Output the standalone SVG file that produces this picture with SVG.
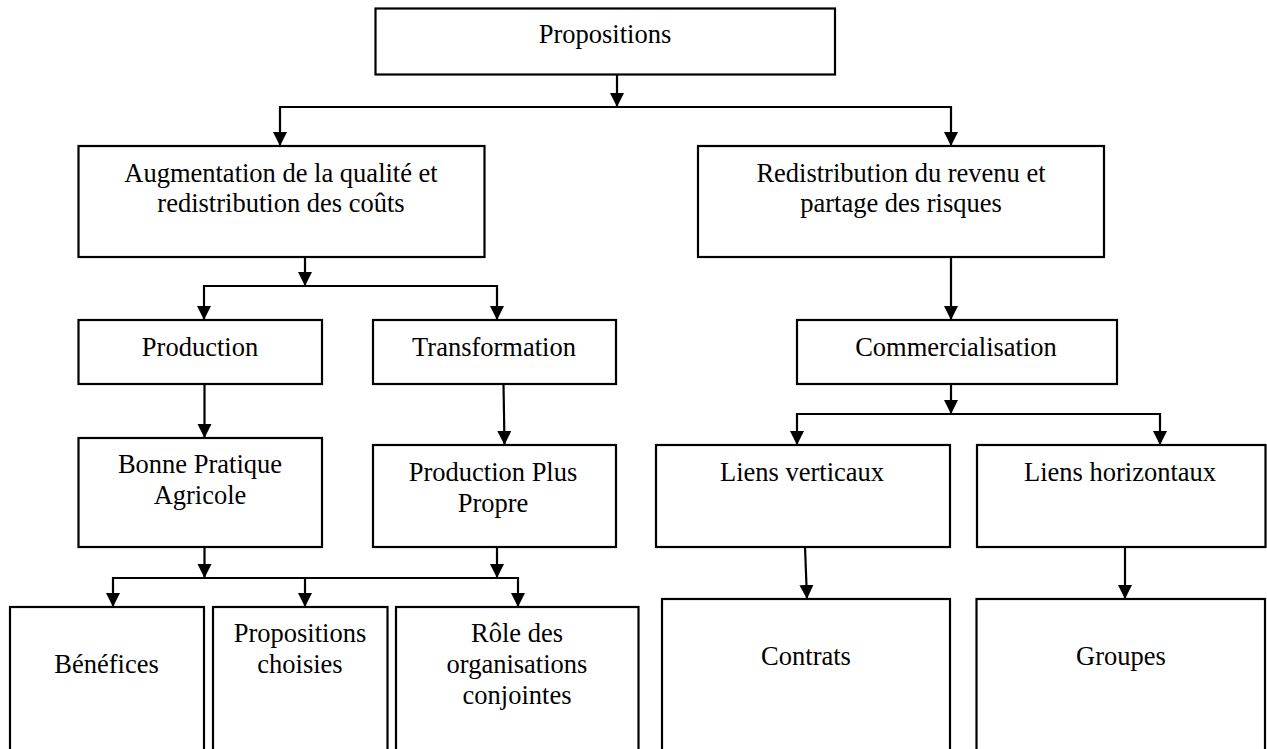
<svg xmlns="http://www.w3.org/2000/svg" width="1267" height="749" viewBox="0 0 1267 749">
  <style>
    .box { fill: #ffffff; stroke: #000000; stroke-width: 2.2; }
    .lbl { font-family: "Liberation Serif", "Times New Roman", serif; font-size: 26.5px; fill: #000000; text-anchor: middle; }
    .wire { fill: none; stroke: #000000; stroke-width: 2.2; }
    .arrow { fill: none; stroke: #000000; stroke-width: 2.2; marker-end: url(#head); }
  </style>
  <defs>
    <marker id="head" markerUnits="userSpaceOnUse" markerWidth="14" markerHeight="15" refX="14" refY="7" orient="auto" viewBox="0 0 14 14">
      <path d="M0,0 L14,7 L0,14 z" fill="#000000"/>
    </marker>
  </defs>
  <rect width="1267" height="749" fill="#ffffff"/>

  <!-- connectors -->
  <g id="connectors">
    <!-- root split -->
    <line class="arrow" x1="617" y1="74" x2="617" y2="107"/>
    <line class="wire" x1="280" y1="107" x2="951" y2="107"/>
    <line class="arrow" x1="280" y1="106" x2="280" y2="146"/>
    <line class="arrow" x1="951" y1="106" x2="951" y2="146"/>
    <!-- quality branch split -->
    <line class="arrow" x1="305" y1="257" x2="305" y2="286"/>
    <line class="wire" x1="204" y1="286" x2="497" y2="286"/>
    <line class="arrow" x1="204" y1="285" x2="204" y2="320"/>
    <line class="arrow" x1="497" y1="285" x2="497" y2="320"/>
    <!-- second level -->
    <line class="arrow" x1="204.5" y1="384" x2="204.5" y2="438"/>
    <line class="arrow" x1="503.5" y1="384" x2="504.5" y2="445"/>
    <!-- merge to the bottom row -->
    <line class="arrow" x1="204.5" y1="547" x2="204.5" y2="578"/>
    <line class="arrow" x1="497" y1="547" x2="497" y2="578"/>
    <line class="wire" x1="113" y1="578" x2="518" y2="578"/>
    <line class="arrow" x1="113" y1="577" x2="113" y2="607"/>
    <line class="arrow" x1="305" y1="577" x2="305" y2="607"/>
    <line class="arrow" x1="518" y1="577" x2="518" y2="607"/>
    <!-- income branch -->
    <line class="arrow" x1="951" y1="257" x2="951" y2="320"/>
    <line class="arrow" x1="951" y1="384" x2="951" y2="414"/>
    <line class="wire" x1="797" y1="414" x2="1160" y2="414"/>
    <line class="arrow" x1="797" y1="413" x2="797" y2="445"/>
    <line class="arrow" x1="1160" y1="413" x2="1160" y2="445"/>
    <line class="arrow" x1="805" y1="547" x2="807" y2="599"/>
    <line class="arrow" x1="1125" y1="547" x2="1125" y2="599"/>
  </g>

  <g id="propositions">
    <rect class="box" x="375.5" y="8.5" width="459.5" height="66"/>
    <text class="lbl" x="605" y="43">Propositions</text>
  </g>

  <g id="augmentation">
    <rect class="box" x="78.5" y="146" width="406" height="111"/>
    <text class="lbl" x="281" y="182">Augmentation de la qualité et</text>
    <text class="lbl" x="281" y="212">redistribution des coûts</text>
  </g>

  <g id="redistribution">
    <rect class="box" x="698" y="146" width="406" height="111"/>
    <text class="lbl" x="901" y="182">Redistribution du revenu et</text>
    <text class="lbl" x="901" y="212">partage des risques</text>
  </g>

  <g id="production">
    <rect class="box" x="78.5" y="320" width="243.5" height="64"/>
    <text class="lbl" x="200" y="356">Production</text>
  </g>

  <g id="transformation">
    <rect class="box" x="373" y="320" width="243" height="64"/>
    <text class="lbl" x="494" y="356">Transformation</text>
  </g>

  <g id="commercialisation">
    <rect class="box" x="797" y="320" width="320" height="64"/>
    <text class="lbl" x="956" y="356">Commercialisation</text>
  </g>

  <g id="bonne-pratique">
    <rect class="box" x="78.5" y="438" width="243.5" height="109"/>
    <text class="lbl" x="200" y="473">Bonne Pratique</text>
    <text class="lbl" x="200" y="504">Agricole</text>
  </g>

  <g id="production-propre">
    <rect class="box" x="373" y="445" width="243" height="102"/>
    <text class="lbl" x="493" y="481">Production Plus</text>
    <text class="lbl" x="493" y="512">Propre</text>
  </g>

  <g id="liens-verticaux">
    <rect class="box" x="656" y="445" width="294" height="102"/>
    <text class="lbl" x="802" y="481">Liens verticaux</text>
  </g>

  <g id="liens-horizontaux">
    <rect class="box" x="977" y="445" width="288.5" height="102"/>
    <text class="lbl" x="1120" y="481">Liens horizontaux</text>
  </g>

  <g id="benefices">
    <rect class="box" x="10" y="607" width="194" height="150"/>
    <text class="lbl" x="106.5" y="673">Bénéfices</text>
  </g>

  <g id="propositions-choisies">
    <rect class="box" x="213" y="607" width="174.5" height="150"/>
    <text class="lbl" x="300" y="642">Propositions</text>
    <text class="lbl" x="300" y="673">choisies</text>
  </g>

  <g id="role-organisations">
    <rect class="box" x="396" y="607" width="242.5" height="150"/>
    <text class="lbl" x="517" y="642">Rôle des</text>
    <text class="lbl" x="517" y="673">organisations</text>
    <text class="lbl" x="517" y="704">conjointes</text>
  </g>

  <g id="contrats">
    <rect class="box" x="662" y="599" width="288" height="158"/>
    <text class="lbl" x="806" y="665">Contrats</text>
  </g>

  <g id="groupes">
    <rect class="box" x="976.5" y="599" width="288.5" height="158"/>
    <text class="lbl" x="1121" y="665">Groupes</text>
  </g>
</svg>
